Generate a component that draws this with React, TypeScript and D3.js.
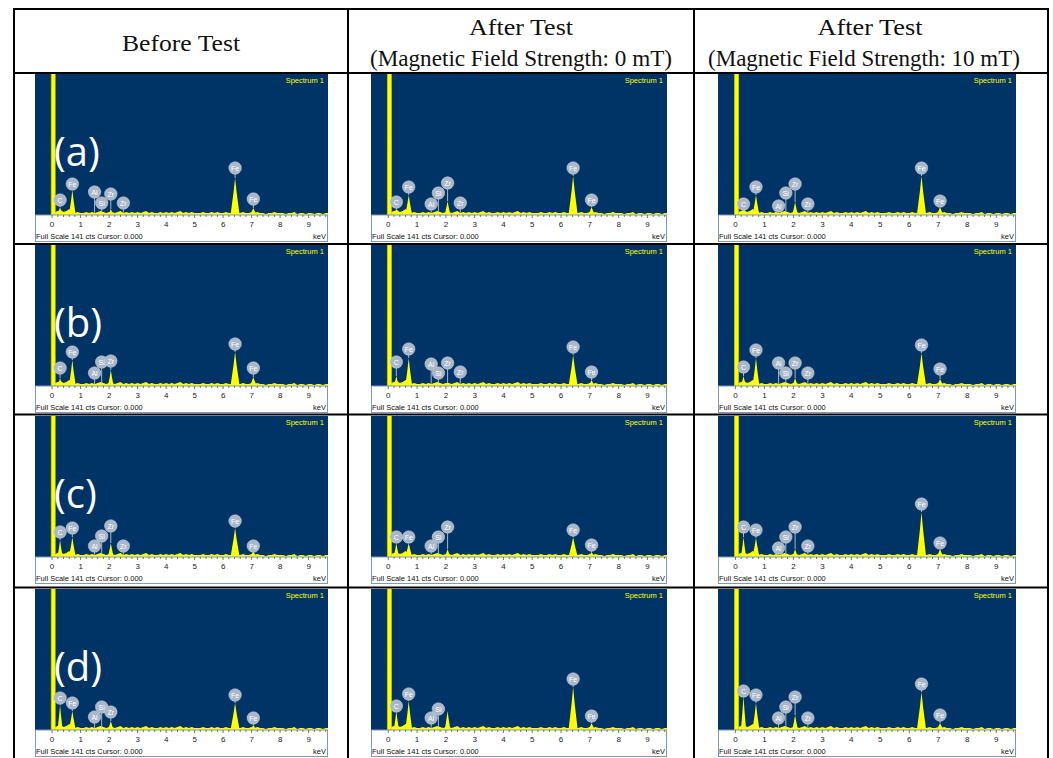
import * as d3 from "d3";

// EDS spectra, rows (a)-(d), columns: before test / 0 mT / 10 mT
const rowTags: string[] = ["(a)", "(b)", "(c)", "(d)"];
const columnTitles: string[][] = [
  ["Before Test"],
  ["After Test", "(Magnetic Field Strength: 0 mT)"],
  ["After Test", "(Magnetic Field Strength: 10 mT)"],
];

const lineNames: string[] = ["C", "Fe", "Al", "Si", "Zr", "Zr", "Fe", "Fe"];
const lineEnergies: number[] = [0.28, 0.71, 1.49, 1.74, 2.06, 2.5, 6.42, 7.06];
const lineWidths: number[] = [0.09, 0.12, 0.07, 0.07, 0.1, 0.07, 0.16, 0.12];

// peak heights (cts), panels in reading order
const peakCounts: number[][] = [
  [8, 25, 3, 3, 6, 3, 37, 7],
  [5, 20, 3, 3, 14, 3, 39, 8],
  [5, 20, 3, 3, 13, 3, 39, 8],
  [8, 26, 3, 3, 16, 2, 34, 9],
  [10, 28, 3, 3, 4, 2, 31, 6],
  [10, 28, 3, 3, 8, 2, 33, 7],
  [17, 20, 3, 3, 14, 3, 29, 6],
  [14, 14, 3, 3, 8, 2, 20, 5],
  [20, 19, 3, 3, 8, 3, 45, 8],
  [25, 19, 3, 3, 9, 2, 27, 5],
  [19, 29, 3, 3, 19, 2, 43, 7],
  [34, 27, 3, 3, 15, 2, 38, 7],
];

// height of the element badges (cts), null = no badge
const labelCounts: (number | null)[][] = [
  [15, 31, 23, 12, 21, 12, 47, 16],
  [13, 28, 11, 22, 32, 12, 47, 15],
  [11, 28, 9, 22, 31, 11, 47, 14],
  [18, 34, 13, 24, 25, null, 42, 18],
  [24, 37, 22, 13, 23, 14, 39, 14],
  [19, 36, 23, 13, 23, 13, 41, 17],
  [25, 29, 11, 21, 31, 11, 36, 11],
  [20, 20, 11, 20, 30, null, 27, 12],
  [30, 27, 9, 20, 30, 11, 53, 14],
  [32, 27, 13, 23, 18, null, 35, 12],
  [24, 36, 12, 21, null, null, 51, 14],
  [39, 35, 12, 23, 33, 12, 46, 15],
];

// background counts every 0.1 keV from 0.1 keV
const backgroundCounts: number[] = [
  3, 4, 5, 3, 4, 6, 3, 2, 3, 2,
  2, 3, 2, 3, 2, 3, 4, 3, 2, 3,
  3, 2, 3, 4, 2, 3, 2, 3, 2, 3,
  2, 3, 4, 2, 3, 2, 2, 3, 2, 3,
  2, 3, 2, 3, 4, 2, 3, 2, 3, 2,
  2, 2, 3, 2, 2, 3, 2, 3, 2, 2,
  3, 2, 2, 3, 2, 2, 3, 2, 2, 3,
  2, 3, 2, 2, 1, 2, 2, 3, 2, 2,
  2, 1, 2, 2, 3, 1, 2, 2, 1, 2,
  2, 1, 2, 2, 1, 2, 2,
];
const zeroPeakCounts = 1000;
const fullScale = 141;
const keVTicks: number[] = [0, 1, 2, 3, 4, 5, 6, 7, 8, 9];

const gridX = [14, 348, 694, 1048];
const gridY = [9, 73, 244, 414.5, 587.5];
const panelX = [35, 371, 718];
const panelW = [293, 296, 298];
const rowTop = [74, 245, 416, 589];
const plotH = 141;
const stripH = 27;

// title lines: width and centre, as measured on the reference
const titleWidths: number[][] = [[118], [104, 302], [105, 312]];
const titleCentres: number[][] = [[181], [521, 521], [870, 864]];

const BLUE = "#003366";
const YELLOW = "#ffff00";
const sans = "'Liberation Sans', Arial, sans-serif";

type Pt = [number, number];

function Panel(props: { id: string; x0: number; y0: number; w: number; peaks: number[]; labels: (number | null)[]; tag: string | null }) {
  const { id, x0, y0, w, peaks, labels, tag } = props;
  const x = d3.scaleLinear().domain([-0.6, 9.68]).range([0, w]);
  const y = d3.scaleLinear().domain([0, fullScale]).range([plotH, 0]);
  const area = d3
    .area<Pt>()
    .x((d) => x(d[0]))
    .y0(plotH)
    .y1((d) => y(d[1]));

  const bg: Pt[] = [[0.05, 0] as Pt].concat(backgroundCounts.map((c, i) => [0.1 * (i + 1), c] as Pt));
  const zero: Pt[] = [[-0.03, 0], [-0.02, zeroPeakCounts], [0.1, zeroPeakCounts], [0.11, 0]];
  const minor = x.ticks(50).filter((t) => t >= 0);

  return (
    <g transform={`translate(${x0},${y0})`}>
      <defs>
        <clipPath id={id}>
          <rect width={w} height={plotH} />
        </clipPath>
      </defs>
      <rect width={w} height={plotH} fill={BLUE} />
      <g clipPath={`url(#${id})`}>
        <path d={area(bg) || ""} fill={YELLOW} />
        <path d={area(zero) || ""} fill={YELLOW} stroke="#d6d600" strokeWidth={0.7} />
        {peaks.map((h, i) => {
          const e = lineEnergies[i];
          const wd = lineWidths[i];
          const pts: Pt[] = [[e - wd, 0], [e - wd * 0.35, h * 0.6], [e, h], [e + wd * 0.35, h * 0.6], [e + wd, 0]];
          return <path key={i} d={area(pts) || ""} fill={YELLOW} />;
        })}
      </g>
      <text x={w - 4} y={9} textAnchor="end" fill={YELLOW} fontSize={7.5} fontFamily={sans}>
        Spectrum 1
      </text>
      {tag && (
        <text x={19} y={92} fill="#ffffff" fontSize={40} fontFamily="'Open Sans', 'Noto Sans', sans-serif">
          {tag}
        </text>
      )}
      {labels.map((lc, i) => {
        if (lc === null) return null;
        const cx = x(lineEnergies[i]);
        const cy = y(lc);
        return (
          <g key={i}>
            <line x1={cx} x2={cx} y1={cy} y2={y(peaks[i])} stroke="#a9b7c9" strokeWidth={1} />
            <circle cx={cx} cy={cy} r={6.3} fill="#a9b7c9" stroke="#c4cedb" strokeWidth={0.5} />
            <text x={cx} y={cy + 2.5} textAnchor="middle" fill="#ffffff" fontSize={7} fontFamily={sans}>
              {lineNames[i]}
            </text>
          </g>
        );
      })}
      <rect x={0.5} y={plotH} width={w - 1} height={stripH - 0.5} fill="#ffffff" stroke="#7d98bd" strokeWidth={1} />
      {minor.map((t) => (
        <line key={t} x1={x(t)} x2={x(t)} y1={plotH} y2={plotH + (Math.abs(t - Math.round(t)) < 1e-6 ? 3 : 2)} stroke="#555" strokeWidth={0.8} />
      ))}
      {keVTicks.map((t) => (
        <text key={t} x={x(t)} y={plotH + 12} textAnchor="middle" fontSize={8} fontFamily={sans} fill="#222">
          {t}
        </text>
      ))}
      <text x={1} y={plotH + 24} fontSize={7.5} fontFamily={sans} fill="#111">
        Full Scale 141 cts Cursor: 0.000
      </text>
      <text x={w - 2} y={plotH + 24} textAnchor="end" fontSize={7.5} fontFamily={sans} fill="#111">
        keV
      </text>
    </g>
  );
}

export default function App() {
  return (
    <svg width={1053} height={758} style={{ position: "absolute", left: 0, top: 0, background: "#fff" }}>
      {rowTop.map((top, r) =>
        panelX.map((px, c) => {
          const k = r * 3 + c;
          return (
            <Panel
              key={k}
              id={`clip${k}`}
              x0={px}
              y0={top}
              w={panelW[c]}
              peaks={peakCounts[k]}
              labels={labelCounts[k]}
              tag={c === 0 ? rowTags[r] : null}
            />
          );
        })
      )}
      {columnTitles.map((lines, c) => {
        const ys = lines.length === 1 ? [51] : [35, 66];
        return lines.map((t, i) => (
          <text
            key={`${c}-${i}`}
            x={titleCentres[c][i] - titleWidths[c][i] / 2}
            y={ys[i]}
            textLength={titleWidths[c][i]}
            lengthAdjust="spacingAndGlyphs"
            fontSize={23}
            fontFamily="'Liberation Serif', 'DejaVu Serif', serif"
            fill="#111"
          >
            {t}
          </text>
        ));
      })}
      {gridY.map((gy, i) => (
        <line key={`h${i}`} x1={gridX[0] - 1} x2={gridX[3] + 1} y1={gy} y2={gy} stroke="#000" strokeWidth={2} />
      ))}
      {gridX.map((gx, i) => (
        <line key={`v${i}`} x1={gx} x2={gx} y1={gridY[0] - 1} y2={758} stroke="#000" strokeWidth={2} />
      ))}
    </svg>
  );
}
